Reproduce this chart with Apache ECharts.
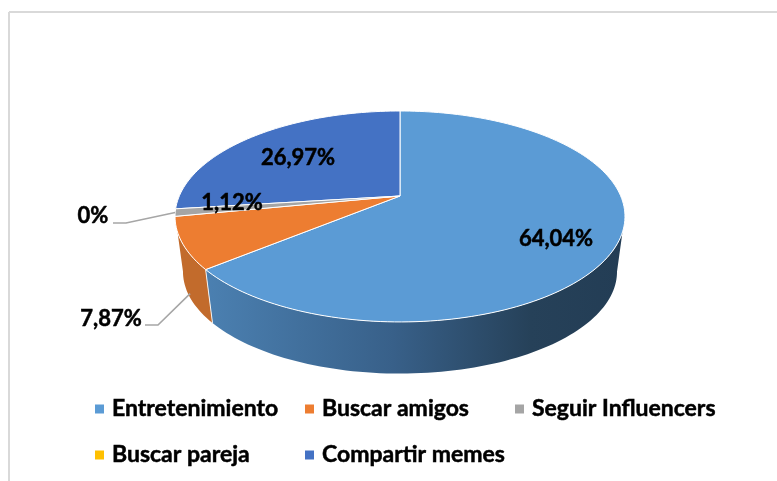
<!DOCTYPE html>
<html>
<head>
<meta charset="utf-8">
<style>
  html, body { margin: 0; padding: 0; background: #fff; }
  #chart { width: 777px; height: 481px; }
</style>
<script src="https://cdn.jsdelivr.net/npm/echarts@6/dist/echarts.min.js"></script>
</head>
<body>
<div id="chart"></div>
<script>
// datos
const categories = ['Entretenimiento', 'Buscar amigos', 'Seguir Influencers', 'Buscar pareja', 'Compartir memes']
const shares = [64.04, 7.87, 1.12, 0, 26.97]
const shareLabels = ['64,04%', '7,87%', '1,12%', '0%', '26,97%']
const colors = ['#5b9bd5', '#ed7d31', '#a5a5a5', '#ffc000', '#4472c4']

const FONT = 'Lato, "Noto Sans", sans-serif'

// proyeccion en perspectiva del disco superior e inferior
const P = 0.194
const topRim = { cx: 400, cy: 196, a: 220.7, b: 101.5 }
const lowRim = { cx: 400, cy: 252, a: 212.9, b: 98 }
const WALL_FROM = 109.4
const WALL_TO = 250.6
const LOW_FROM = 101
const LOW_TO = 259

const rimPoint = (rim, deg) => {
  const t = deg * Math.PI / 180
  const d = 1 + P * Math.cos(t)
  return [rim.cx + rim.a * Math.sin(t) / d, rim.cy - rim.b * Math.cos(t) / d]
}

const arc = (rim, from, to) => {
  const pts = []
  const n = Math.max(1, Math.ceil(Math.abs(to - from) / 1.5))
  for (let i = 0; i <= n; i++) pts.push(rimPoint(rim, from + (to - from) * i / n))
  return pts
}

// posicion de los textos y guias
const labelPos = [[556, 239], [111, 319], [232, 203], [93, 216], [298, 158]]
const leaderElbow = [null, [[145, 325], [158, 325]], null, [[113, 223], [126, 223]], null]
const leaderTarget = [null, 'low', null, 'top', null]

const wallFill = [
  {
    type: 'linear', x: 0, y: 0, x2: 1, y2: 0,
    colorStops: [
      { offset: 0, color: '#4b80b1' },
      { offset: 0.45, color: '#386089' },
      { offset: 0.78, color: '#264159' },
      { offset: 1, color: '#233d55' }
    ]
  },
  '#c26b2c', '#8a8a8a', '#c9a000', '#38609f'
]

const total = shares.reduce((s, v) => s + v, 0)
const startAngles = shares.map((_, i) => shares.slice(0, i).reduce((s, v) => s + v, 0) / total * 360)

const renderSlice = (idx) => (params, api) => {
  const value = api.value(0)
  const from = startAngles[idx]
  const to = from + value / total * 360
  const children = []

  // pared lateral
  if (value > 0 && to > WALL_FROM && from < WALL_TO) {
    const a = Math.max(from, WALL_FROM)
    const b = Math.min(to, WALL_TO)
    const la = from <= WALL_FROM ? LOW_FROM : from
    const lb = to >= WALL_TO ? LOW_TO : to
    children.push({
      type: 'polygon',
      shape: { points: arc(topRim, a, b).concat(arc(lowRim, lb, la)) },
      style: { fill: wallFill[idx] }
    })
    if (from > WALL_FROM) {
      children.push({
        type: 'line',
        shape: {
          x1: rimPoint(topRim, from)[0], y1: rimPoint(topRim, from)[1],
          x2: rimPoint(lowRim, from)[0], y2: rimPoint(lowRim, from)[1]
        },
        style: { stroke: '#f2f2f2', lineWidth: 1 }
      })
    }
  }

  // cara superior
  if (value > 0) {
    children.push({
      type: 'polygon',
      z2: 5,
      shape: { points: [[topRim.cx, topRim.cy]].concat(arc(topRim, from, to)) },
      style: { fill: colors[idx], stroke: '#fff', lineWidth: 1, lineJoin: 'round' }
    })
  }

  // guia
  if (leaderElbow[idx]) {
    const end = leaderTarget[idx] === 'low'
      ? rimPoint(lowRim, startAngles[1] + shares[1] / total * 180)
      : rimPoint(topRim, startAngles[2] + shares[2] / total * 180)
    if (leaderTarget[idx] === 'low') end[1] -= 4
    children.push({
      type: 'polyline',
      z2: 6,
      shape: { points: leaderElbow[idx].concat([end]) },
      style: { fill: null, stroke: '#a6a6a6', lineWidth: 1.6 }
    })
  }

  children.push({
    type: 'text',
    z2: 10,
    x: labelPos[idx][0],
    y: labelPos[idx][1],
    style: {
      text: shareLabels[idx],
      fill: '#000',
      stroke: '#000',
      lineWidth: 0.5,
      font: 'bold 22px ' + FONT,
      align: 'center',
      verticalAlign: 'middle'
    }
  })

  return { type: 'group', children }
}

// una serie por categoria para que la leyenda salga sola
const series = categories.map((name, i) => ({
  name,
  type: 'custom',
  coordinateSystem: 'none',
  silent: true,
  animation: false,
  z: i === 2 || i === 3 ? 3 : 2,
  itemStyle: { color: colors[i] },
  data: [[shares[i]]],
  renderItem: renderSlice(i)
}))

const legendPos = [[95, 397], [305, 397], [515, 397], [95, 443], [305, 443]]

const chart = echarts.init(document.getElementById('chart'), null, { renderer: 'canvas' })
chart.setOption({
  backgroundColor: '#fff',
  animation: false,
  legend: categories.map((name, i) => ({
    data: [name],
    left: legendPos[i][0],
    top: legendPos[i][1],
    padding: 0,
    icon: 'rect',
    itemWidth: 9,
    itemHeight: 9,
    selectedMode: false,
    textStyle: {
      color: '#000',
      fontFamily: FONT,
      fontWeight: 'bold',
      fontSize: 23,
      lineHeight: 24,
      textBorderColor: '#000',
      textBorderWidth: 0.5,
      padding: [0, 0, 0, 3]
    }
  })),
  graphic: [
    { type: 'line', shape: { x1: 9, y1: 12, x2: 777, y2: 12 }, style: { stroke: '#d9d9d9', lineWidth: 2 }, silent: true },
    { type: 'line', shape: { x1: 9, y1: 12, x2: 9, y2: 481 }, style: { stroke: '#d9d9d9', lineWidth: 2 }, silent: true }
  ],
  series
})
</script>
</body>
</html>
